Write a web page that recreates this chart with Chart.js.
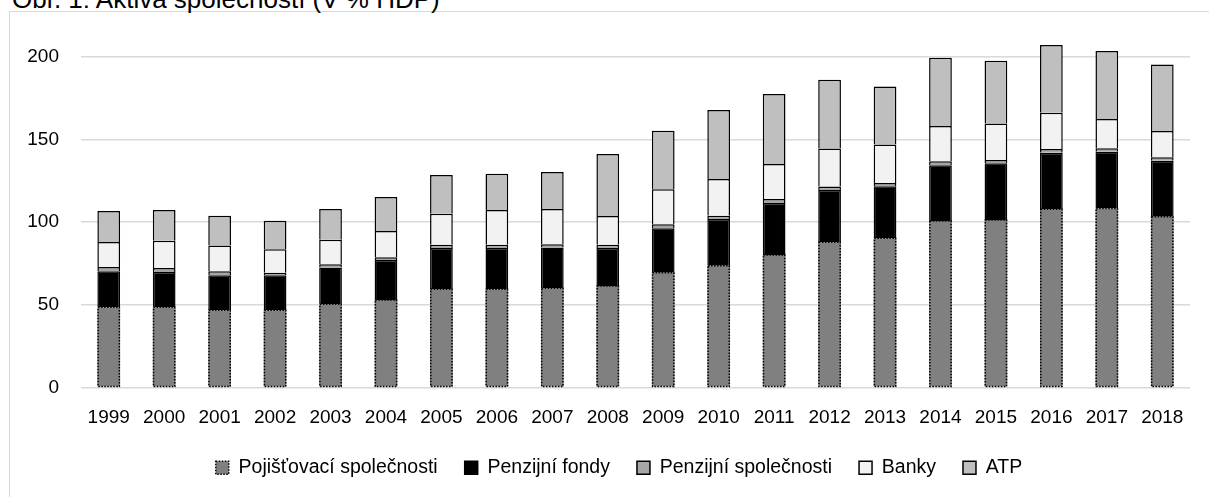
<!DOCTYPE html>
<html>
<head>
<meta charset="utf-8">
<script src="https://cdn.jsdelivr.net/npm/chart.js"></script>
<style>
    html, body { margin: 0; padding: 0; background: #fff; overflow: hidden; }
    #wrap { position: relative; width: 1209px; height: 497px; }
    #frame { position: absolute; left: 9px; top: 11px; width: 1300px; height: 600px; border: 1px solid #d9d9d9; }
    #title { position: absolute; left: 12px; top: -14px; font: 26px/26px "Liberation Sans", Arial, sans-serif; color: #000; white-space: nowrap; }
    #myBarChart { position: absolute; left: 0; top: 0; }
</style>
</head>
<body>
<div id="wrap">
    <div id="frame"></div>
    <div id="title">Obr. 1: Aktiva společností (V % HDP)</div>
    <canvas id="myBarChart" width="1209" height="497"></canvas>
</div>
<script>
// 데이터
const years = ['1999', '2000', '2001', '2002', '2003', '2004', '2005', '2006', '2007', '2008',
    '2009', '2010', '2011', '2012', '2013', '2014', '2015', '2016', '2017', '2018'];
const pojistovny = [48.4, 48.4, 46.6, 46.6, 50.2, 52.8, 59.3, 59.3, 59.9, 61.3, 69.3, 73.6, 80.0, 87.7, 90.1, 100.6, 101.2, 107.7, 108.1, 103.2];
const penzijniFondy = [21.8, 21.3, 21.2, 21.2, 22.2, 24.2, 25.0, 25.0, 24.6, 23.0, 26.9, 28.2, 31.5, 31.7, 31.5, 33.7, 34.3, 34.2, 34.4, 33.9];
const penzijniSpol = [2.6, 2.5, 2.4, 1.5, 2.0, 1.6, 2.0, 2.0, 2.0, 2.0, 2.4, 2.0, 2.4, 2.0, 2.0, 2.4, 2.0, 2.3, 2.1, 2.0];
const banky = [15.1, 16.5, 15.5, 14.2, 14.9, 16.0, 18.7, 21.0, 21.4, 17.3, 21.2, 22.2, 21.2, 23.0, 23.2, 21.4, 22.0, 21.9, 17.7, 16.0];
const atp = [18.8, 18.6, 18.1, 17.3, 18.6, 20.5, 23.4, 21.9, 22.3, 37.5, 35.4, 41.8, 42.3, 41.7, 35.1, 41.3, 38.1, 41.0, 41.1, 40.2];
const yTicks = [0, 50, 100, 150, 200];

const font = { family: '"Liberation Sans", Arial, sans-serif', size: 19 };

// 첫 번째 시리즈 테두리 점선 (bar 는 borderDash 지원 안 함)
const dottedBorder = {
    id: 'dottedBorder',
    afterDatasetsDraw(chart) {
        const ctx = chart.ctx;
        const meta = chart.getDatasetMeta(0);
        ctx.save();
        ctx.strokeStyle = '#000';
        ctx.lineWidth = 1.5;
        ctx.setLineDash([1.5, 1.5]);
        meta.data.forEach(function (bar) {
            const left = bar.x - bar.width / 2;
            ctx.strokeRect(left + 0.75, bar.y, bar.width - 1.5, bar.base - bar.y);
        });
        ctx.restore();
    }
};

// 범례를 플롯 가운데 쪽으로 조금 이동
const legendShift = {
    id: 'legendShift',
    afterLayout(chart) {
        chart.legend.left += 24;
        chart.legend.right += 24;
    }
};

const ctx = document.getElementById('myBarChart').getContext('2d');
const myChart = new Chart(ctx, {
    type: 'bar',
    data: {
        labels: years,
        datasets: [
            { label: 'Pojišťovací společnosti', data: pojistovny, backgroundColor: '#808080', borderColor: '#000', borderWidth: 0 },
            { label: 'Penzijní fondy', data: penzijniFondy, backgroundColor: '#000000', borderColor: '#000', borderWidth: 1.5 },
            { label: 'Penzijní společnosti', data: penzijniSpol, backgroundColor: '#a6a6a6', borderColor: '#000', borderWidth: 1.5 },
            { label: 'Banky', data: banky, backgroundColor: '#f2f2f2', borderColor: '#000', borderWidth: 1.5 },
            { label: 'ATP', data: atp, backgroundColor: '#bfbfbf', borderColor: '#000', borderWidth: 1.5 }
        ]
    },
    options: {
        responsive: false,
        animation: false,
        layout: { padding: { left: 0, right: 19, top: 23.6, bottom: 9.5 } },
        datasets: {
            bar: { barPercentage: 0.41, categoryPercentage: 1, borderSkipped: 'start' }
        },
        plugins: {
            tooltip: { enabled: false },
            legend: {
                position: 'bottom',
                labels: {
                    font: { family: font.family, size: 19.5 },
                    color: '#000',
                    boxWidth: 13,
                    boxHeight: 13,
                    padding: 27,
                    generateLabels(chart) {
                        const items = Chart.defaults.plugins.legend.labels.generateLabels(chart);
                        items.forEach(function (item, i) {
                            item.lineWidth = 1.5;
                            item.strokeStyle = '#000';
                            item.lineDash = i === 0 ? [1.5, 1.5] : [];
                        });
                        return items;
                    }
                }
            }
        },
        scales: {
            x: {
                stacked: true,
                grid: { display: false },
                border: { display: false },
                ticks: { font: font, color: '#000', padding: 11, maxRotation: 0, autoSkip: false },
                afterFit(scale) { scale.height = 43.7; }
            },
            y: {
                stacked: true,
                min: 0,
                max: 220,
                grid: { color: '#d9d9d9', lineWidth: 1.5, drawTicks: false },
                border: { display: false },
                ticks: { font: font, color: '#000', padding: 22 },
                afterBuildTicks(scale) { scale.ticks = yTicks.map(v => ({ value: v })); },
                afterFit(scale) {
                    scale.width = 81;
                    scale.paddingTop = 0;
                    scale.paddingBottom = 0;
                }
            }
        }
    },
    plugins: [dottedBorder, legendShift]
});
</script>
</body>
</html>
